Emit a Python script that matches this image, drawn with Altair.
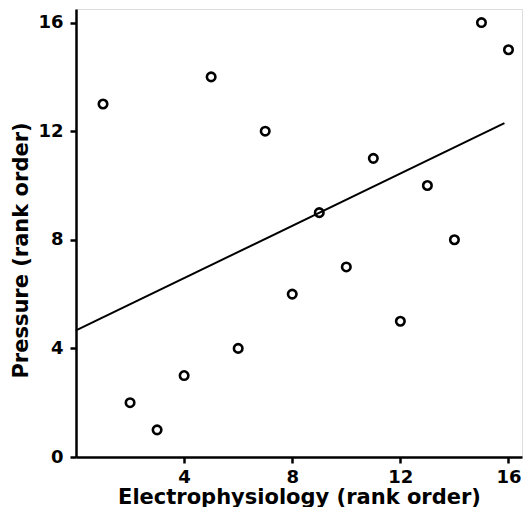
import altair as alt
import pandas as pd

# Data
electro_rank = [1, 2, 3, 4, 5, 6, 7, 8, 9, 10, 11, 12, 13, 14, 15, 16]
pressure_rank = [13, 2, 1, 3, 14, 4, 12, 6, 9, 7, 11, 5, 10, 8, 16, 15]
fit_x = [0, 15.85]
fit_y = [4.66, 12.3]
x_ticks = [4, 8, 12, 16]
y_ticks = [0, 4, 8, 12, 16]

pts = pd.DataFrame({"x": electro_rank, "y": pressure_rank})
fit = pd.DataFrame({"x": fit_x, "y": fit_y})

FONT = "DejaVu Sans"

xscale = alt.Scale(domain=[0, 16.5], nice=False, zero=False)
yscale = alt.Scale(domain=[0, 16.5], nice=False, zero=False)

xaxis = alt.Axis(
    values=x_ticks, title="Electrophysiology (rank order)", grid=False,
    domainColor="black", domainWidth=2.5, tickColor="black", tickWidth=2.5,
    tickSize=6, labelPadding=5, labelFont=FONT, labelFontSize=18,
    labelFontWeight="bold", labelColor="black", titleFont=FONT,
    titleFontSize=21, titleFontWeight="bold", titleColor="black",
    titlePadding=0, labelFlush=False,
)
yaxis = alt.Axis(
    values=y_ticks, title="Pressure (rank order)", grid=False,
    domainColor="black", domainWidth=2.5, tickColor="black", tickWidth=2.5,
    tickSize=6, labelPadding=7, labelFont=FONT, labelFontSize=18,
    labelFontWeight="bold", labelColor="black", titleFont=FONT,
    titleFontSize=21, titleFontWeight="bold", titleColor="black",
    titlePadding=6, labelFlush=False, titleY=241,
)

points = alt.Chart(pts).mark_point(
    shape="circle", filled=False, size=72, strokeWidth=2.6, color="black", opacity=1
).encode(
    x=alt.X("x:Q", scale=xscale, axis=xaxis),
    y=alt.Y("y:Q", scale=yscale, axis=yaxis),
)

line = alt.Chart(fit).mark_line(color="black", strokeWidth=2).encode(
    x=alt.X("x:Q", scale=xscale),
    y=alt.Y("y:Q", scale=yscale),
)

chart = alt.layer(line, points).properties(
    width=446, height=448,
    autosize=alt.AutoSizeParams(type="none"),
    padding={"left": 68, "top": 1, "right": 1, "bottom": 50},
).configure_view(stroke="white", strokeOpacity=0, strokeWidth=0, fill="white").configure(background="white")

chart.save("out.html", embed_options={"renderer": "svg", "actions": False})
